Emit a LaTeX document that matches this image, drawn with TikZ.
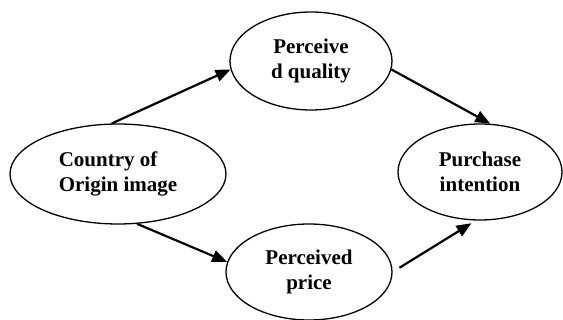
\documentclass[tikz,border=0pt]{standalone}
\usepackage{fontspec}
\setmainfont{Liberation Serif}
\usetikzlibrary{shapes.geometric,arrows.meta}
\begin{document}
\begin{tikzpicture}[x=1pt,y=-1pt,
  oval/.style={draw,ellipse,line width=1.3pt,inner sep=0pt,
    font=\fontsize{21}{24.5}\selectfont\bfseries},
  link/.style={line width=2.2pt,-{Triangle[length=15pt,width=12pt]}}]
\useasboundingbox (0,0) rectangle (563,320);
\node[oval,minimum width=162pt,minimum height=98pt,align=center] (quality) at (311,61) {Perceive\\d quality};
\node[oval,minimum width=216pt,minimum height=100pt,align=left] (country) at (118,174) {Country of\\Origin image};
\node[oval,minimum width=164pt,minimum height=96pt,align=center] (purchase) at (480,172) {Purchase\\intention};
\node[oval,minimum width=166pt,minimum height=96pt,align=center] (price) at (309,272) {Perceived\\price};
\draw[link] (country.97) -- (quality.186);
\draw[link] (quality.354) -- (purchase.78);
\draw[link] (country.291) -- (price.173);
\draw[link,shorten <=8pt,shorten >=5pt] (price.east) -- (purchase.265);
\end{tikzpicture}
\end{document}
